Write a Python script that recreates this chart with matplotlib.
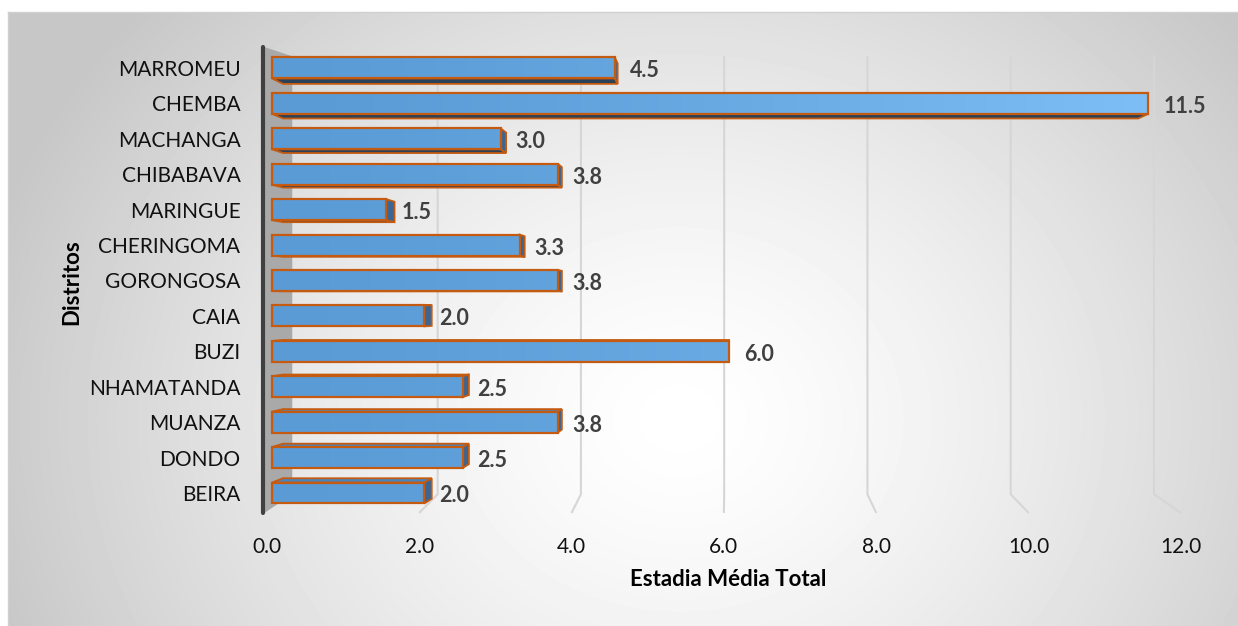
import numpy as np
import matplotlib
matplotlib.use("Agg")
import matplotlib.pyplot as plt
from matplotlib.patches import Polygon, Rectangle
from matplotlib.transforms import ScaledTranslation
from matplotlib.colors import to_rgb
from decimal import Decimal, ROUND_HALF_UP

# ---------------- data ----------------
districts = ["BEIRA", "DONDO", "MUANZA", "NHAMATANDA", "BUZI", "CAIA", "GORONGOSA",
             "CHERINGOMA", "MARINGUE", "CHIBABAVA", "MACHANGA", "CHEMBA", "MARROMEU"]
values = [2.0, 2.5, 3.75, 2.5, 6.0, 2.0, 3.75, 3.25, 1.5, 3.75, 3.0, 11.5, 4.5]
x_ticks = [0, 2, 4, 6, 8, 10, 12]
x_title = "Estadia Média Total"
y_title = "Distritos"

FONT = ["Lato", "DejaVu Sans"]
plt.rcParams["font.family"] = FONT

W, H = 1238, 626
fig = plt.figure(figsize=(W / 100, H / 100), dpi=100)

# ---------------- chart-area background (radial gradient) ----------------
bg = fig.add_axes([8 / W, 0, 1 - 8 / W, (H - 12) / H])
bg.set_xlim(8, W)
bg.set_ylim(H, 12)
nx, ny = 400, 200
X, Y = np.meshgrid(np.linspace(8, W, nx), np.linspace(12, H, ny))
d = np.sqrt(((X - 680) / 720) ** 2 + ((Y - 420) / 620) ** 2)
g = 1 - 0.22 * np.clip(d, 0, 1) ** 1.4
bg.imshow(g, cmap="gray", vmin=0, vmax=1, extent=[8, W, H, 12], origin="upper",
          aspect="auto", interpolation="bilinear")
for s in ["right", "bottom"]:
    bg.spines[s].set_visible(False)
for s in ["left", "top"]:
    bg.spines[s].set_color("#D0D0D0")
    bg.spines[s].set_linewidth(1.0)
bg.set_xticks([])
bg.set_yticks([])

# ---------------- main axes (pixel calibration) ----------------
X0PX, XSC = 272.0, 76.2        # px of value 0, px per unit (bar front plane)
Y0PX, YSC = 493.0, 35.42       # px of first row, px per row
xlim = (-0.25, 12.4)
ylim = (-0.8, 12.9)
lpx = X0PX + XSC * xlim[0]
rpx = X0PX + XSC * xlim[1]
bpx = Y0PX - YSC * ylim[0]
tpx = Y0PX - YSC * ylim[1]
ax = fig.add_axes([lpx / W, 1 - bpx / H, (rpx - lpx) / W, (bpx - tpx) / H])
ax.patch.set_alpha(0)
for s in ax.spines.values():
    s.set_visible(False)


def persp(pts, vp, s):
    pts = np.asarray(pts, float)
    return np.asarray(vp) + (pts - np.asarray(vp)) * s


# walls / floor geometry
VPW = (6.0, 8.27)
SW = 0.94
FX0 = -0.10
YTOP, YBOT = 12.59, -0.565
FOFF = -0.07

front_wall = [(FX0, YTOP), (FX0, YBOT)]
back_wall = persp(front_wall, VPW, SW)
side_wall = Polygon([front_wall[0], tuple(back_wall[0]), tuple(back_wall[1]), front_wall[1]],
                    closed=True, facecolor="#A9A9A9", edgecolor="none", zorder=1)
ax.add_patch(side_wall)

# gridlines on back wall + floor
grid_col = "#D6D6D6"
for v in x_ticks[1:]:
    f_top = (v + FOFF, YTOP)
    f_bot = (v + FOFF, YBOT)
    b_top, b_bot = persp([f_top, f_bot], VPW, SW)
    ax.plot([b_top[0], b_bot[0], f_bot[0]], [b_top[1], b_bot[1], f_bot[1]],
            color=grid_col, lw=1.5, zorder=1.5, solid_capstyle="butt")

# dark vertical axis line
ax.plot([FX0 - 0.02, FX0 - 0.02], [YTOP, YBOT], color="#404040", lw=3.0,
        solid_capstyle="round", zorder=2)

# ---------------- 3D bars ----------------
VPB = (6.0, 5.3)
SB = 0.976
HALF = 0.296
EDGE = "#C55A11"
c_left = np.array(to_rgb("#5B9BD5"))
c_right = np.array(to_rgb("#80C0F8"))


def fmt(v):
    return str(Decimal(str(v)).quantize(Decimal("0.1"), rounding=ROUND_HALF_UP))


for i, v in enumerate(values):
    yb, yt = i - HALF, i + HALF
    F = {"bl": (0, yb), "br": (v, yb), "tr": (v, yt), "tl": (0, yt)}
    B = {k: tuple(persp(p, VPB, SB)) for k, p in F.items()}
    # top / bottom face
    if yt < VPB[1]:
        ax.add_patch(Polygon([F["tl"], F["tr"], B["tr"], B["tl"]], closed=True,
                             facecolor="#4A84BC", edgecolor=EDGE, lw=1.3, zorder=3))
    elif yb > VPB[1]:
        ax.add_patch(Polygon([F["bl"], F["br"], B["br"], B["bl"]], closed=True,
                             facecolor="#2B4158", edgecolor=EDGE, lw=1.3, zorder=3))
    # right side face
    if v < VPB[0]:
        ax.add_patch(Polygon([F["br"], F["tr"], B["tr"], B["br"]], closed=True,
                             facecolor="#3C6591", edgecolor=EDGE, lw=1.3, zorder=3.2))
    # front face with horizontal light gradient
    xs = np.linspace(0, v, 64)
    t = (xs / 12.0) ** 1.3
    img = (c_left[None, :] * (1 - t[:, None]) + c_right[None, :] * t[:, None])[None, :, :]
    ax.imshow(img, extent=[0, v, yb, yt], origin="lower", aspect="auto",
              interpolation="bilinear", zorder=4)
    ax.add_patch(Rectangle((0, yb), v, yt - yb, facecolor="none", edgecolor=EDGE,
                           lw=1.6, zorder=4.5))
    ax.annotate(fmt(v), xy=(v, i), xytext=(15, -3), textcoords="offset pixels",
                ha="left", va="center", fontsize=15.5, fontweight="bold",
                color="#404040", zorder=6)

ax.set_xlim(*xlim)
ax.set_ylim(*ylim)

# ---------------- ticks & labels ----------------
ax.set_xticks(x_ticks)
ax.set_xticklabels([f"{t:.1f}" for t in x_ticks], fontsize=15, color="#111111")
ax.set_yticks(range(len(districts)))
ax.set_yticklabels(districts, fontsize=15, color="#111111")
ax.tick_params(axis="both", length=0)
ax.tick_params(axis="x", pad=11)
ax.tick_params(axis="y", pad=9)
shift = ScaledTranslation(FOFF * XSC / 100, 0, fig.dpi_scale_trans)
for lab in ax.get_xticklabels():
    lab.set_transform(lab.get_transform() + shift)

ax.set_xlabel(x_title, fontsize=16, fontweight="bold", color="#000000")
ax.xaxis.set_label_coords((728 - lpx) / (rpx - lpx), -(580 - bpx) / (bpx - tpx))
ax.xaxis.label.set_va("center")
ax.set_ylabel(y_title, fontsize=16, fontweight="bold", color="#000000")
ax.yaxis.set_label_coords((72 - lpx) / (rpx - lpx), (bpx - 282) / (bpx - tpx))
ax.yaxis.label.set_va("center")

fig.savefig("out.png", dpi=100)
